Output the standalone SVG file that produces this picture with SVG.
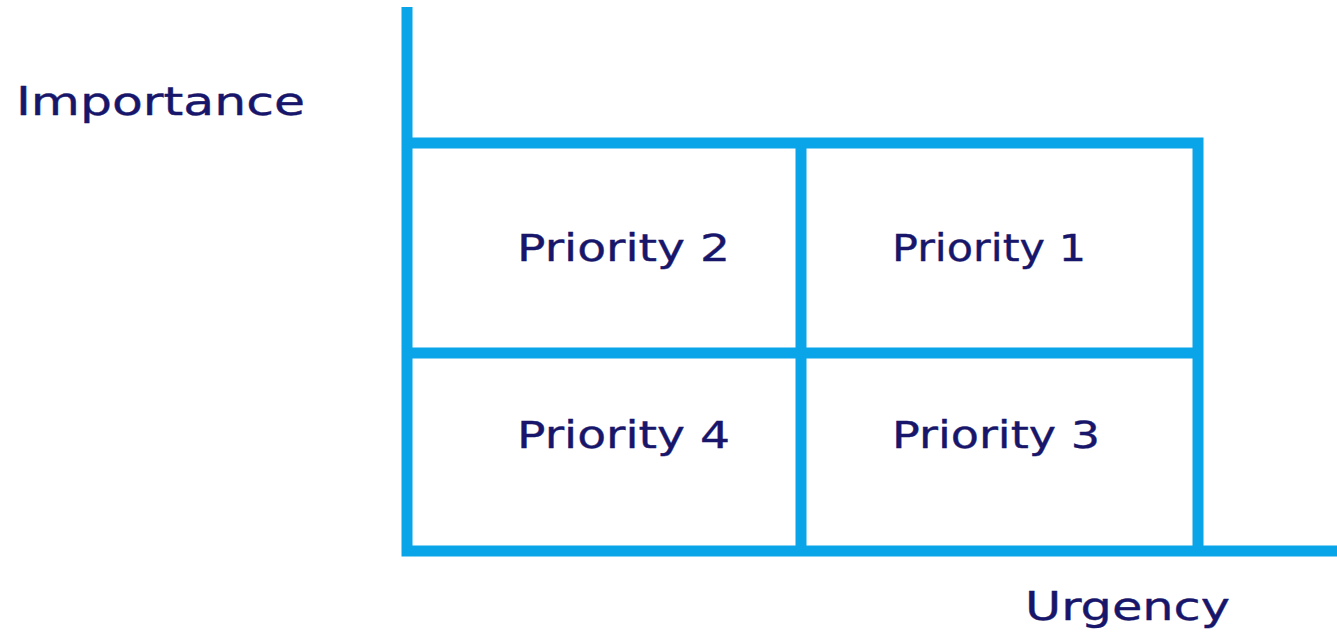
<svg xmlns="http://www.w3.org/2000/svg" width="1337" height="638" viewBox="0 0 1337 638">
  <style>
    .axis { stroke: #0aa5e8; stroke-width: 11; fill: none; stroke-linecap: butt; }
    .lbl { font-family: "DejaVu Sans", "Noto Sans", sans-serif; fill: #17166b; stroke: #17166b; stroke-width: 0.4; }
    .ax-lbl { font-size: 39px; }
    .cell-lbl { font-size: 37px; }
  </style>
  <rect width="1337" height="638" fill="#ffffff"/>
  <g id="connectors">
    <!-- axes -->
    <path class="axis" d="M407 7 V551 H1337"/>
    <!-- quadrant grid -->
    <path class="axis" d="M407 143 H1198 V551"/>
    <path class="axis" d="M407 353 H1198"/>
    <path class="axis" d="M801 143 V551"/>
  </g>
  <g id="importance"><text class="lbl ax-lbl" x="16" y="115" textLength="289" lengthAdjust="spacingAndGlyphs">Importance</text></g>
  <g id="urgency"><text class="lbl ax-lbl" x="1025" y="620" textLength="205" lengthAdjust="spacingAndGlyphs">Urgency</text></g>
  <g id="priority-2"><text class="lbl cell-lbl" x="517" y="261" textLength="213" lengthAdjust="spacingAndGlyphs">Priority 2</text></g>
  <g id="priority-1"><text class="lbl cell-lbl" x="892" y="261" textLength="194" lengthAdjust="spacingAndGlyphs">Priority 1</text></g>
  <g id="priority-4"><text class="lbl cell-lbl" x="517" y="448" textLength="213" lengthAdjust="spacingAndGlyphs">Priority 4</text></g>
  <g id="priority-3"><text class="lbl cell-lbl" x="892" y="448" textLength="208" lengthAdjust="spacingAndGlyphs">Priority 3</text></g>
</svg>
